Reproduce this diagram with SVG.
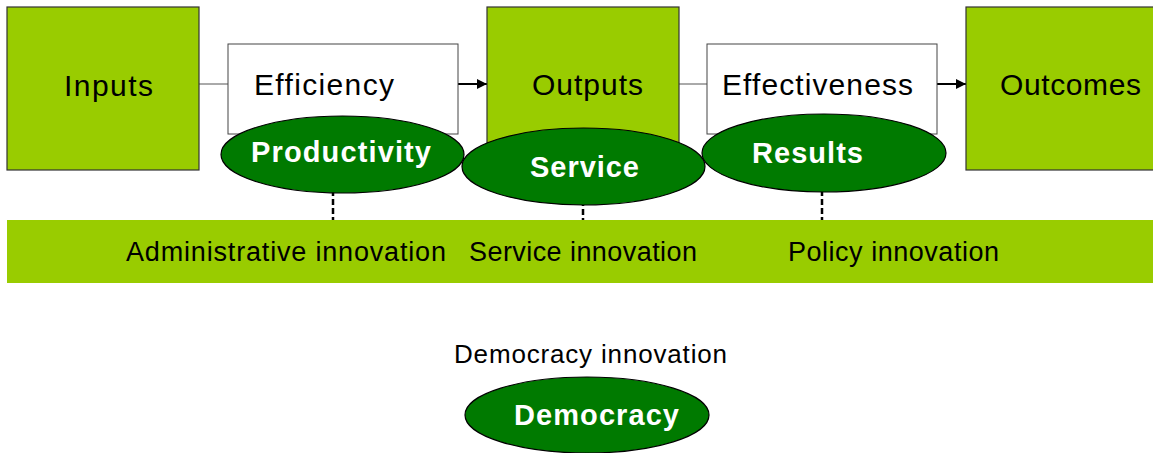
<svg xmlns="http://www.w3.org/2000/svg" width="1153" height="453" viewBox="0 0 1153 453">
  <defs>
    <marker id="arrow" viewBox="0 0 10 10" refX="10" refY="5" markerWidth="10" markerHeight="10" markerUnits="userSpaceOnUse" orient="auto">
      <path d="M0,0 L10,5 L0,10 z" fill="#000"/>
    </marker>
    <style>
      .green { fill: #99CC00; stroke: #333333; stroke-width: 1.2; }
      .white { fill: #FFFFFF; stroke: #444444; stroke-width: 1; }
      .band { fill: #99CC00; }
      .oval { fill: #007A00; stroke: #000000; stroke-width: 1.2; }
      .t { font-family: "Liberation Sans", Arial, sans-serif; fill: #000000; }
      .big { font-size: 30px; }
      .mid { font-size: 27px; }
      .ot { font-family: "Liberation Sans", Arial, sans-serif; font-weight: bold; fill: #FFFFFF; font-size: 29px; }
      .thin { stroke: #555555; stroke-width: 1; fill: none; }
      .arr { stroke: #000000; stroke-width: 2; fill: none; }
      .dash { stroke: #000000; stroke-width: 2.5; stroke-dasharray: 6 3; fill: none; }
    </style>
  </defs>

  <g id="band">
    <rect class="band" x="7" y="220" width="1146" height="63"/>
    <text class="t mid" x="126" y="261" textLength="320" lengthAdjust="spacing">Administrative innovation</text>
    <text class="t mid" x="469" y="261" textLength="228" lengthAdjust="spacing">Service innovation</text>
    <text class="t mid" x="788" y="261" textLength="211" lengthAdjust="spacing">Policy innovation</text>
  </g>

  <g id="connectors">
    <line class="thin" x1="199" y1="84" x2="228" y2="84"/>
    <line class="arr" x1="458" y1="84" x2="487" y2="84" marker-end="url(#arrow)"/>
    <line class="thin" x1="679" y1="84" x2="707" y2="84"/>
    <line class="arr" x1="937" y1="84" x2="966" y2="84" marker-end="url(#arrow)"/>
    <line class="dash" x1="333" y1="190" x2="333" y2="220"/>
    <line class="dash" x1="583" y1="200" x2="583" y2="220"/>
    <line class="dash" x1="822" y1="190" x2="822" y2="220"/>
  </g>

  <g id="inputs">
    <rect class="green" x="7" y="7" width="192" height="163"/>
    <text class="t big" x="64" y="96" textLength="89" lengthAdjust="spacing">Inputs</text>
  </g>

  <g id="efficiency">
    <rect class="white" x="228" y="44" width="230" height="90"/>
    <text class="t big" x="254" y="95" textLength="140" lengthAdjust="spacing">Efficiency</text>
  </g>

  <g id="outputs">
    <rect class="green" x="487" y="7" width="192" height="163"/>
    <text class="t big" x="532" y="95" textLength="111" lengthAdjust="spacing">Outputs</text>
  </g>

  <g id="effectiveness">
    <rect class="white" x="707" y="44" width="230" height="90"/>
    <text class="t big" x="722" y="95" textLength="191" lengthAdjust="spacing">Effectiveness</text>
  </g>

  <g id="outcomes">
    <rect class="green" x="966" y="7" width="192" height="163"/>
    <text class="t big" x="1000" y="95" textLength="141" lengthAdjust="spacing">Outcomes</text>
  </g>

  <g id="productivity">
    <ellipse class="oval" cx="342.5" cy="154.5" rx="121.5" ry="38.5"/>
    <text class="ot" x="251" y="162" textLength="180" lengthAdjust="spacing">Productivity</text>
  </g>

  <g id="results">
    <ellipse class="oval" cx="824" cy="153" rx="122" ry="39"/>
    <text class="ot" x="752" y="163" textLength="111" lengthAdjust="spacing">Results</text>
  </g>

  <g id="service">
    <ellipse class="oval" cx="583.5" cy="166.5" rx="121.5" ry="38.5"/>
    <text class="ot" x="530" y="177" textLength="109" lengthAdjust="spacing">Service</text>
  </g>

  <g id="democracy-innovation">
    <text class="t" style="font-size:26px" x="454" y="363" textLength="273" lengthAdjust="spacing">Democracy innovation</text>
  </g>

  <g id="democracy">
    <ellipse class="oval" cx="587" cy="415" rx="122" ry="38"/>
    <text class="ot" x="514" y="425" textLength="165" lengthAdjust="spacing">Democracy</text>
  </g>
</svg>
